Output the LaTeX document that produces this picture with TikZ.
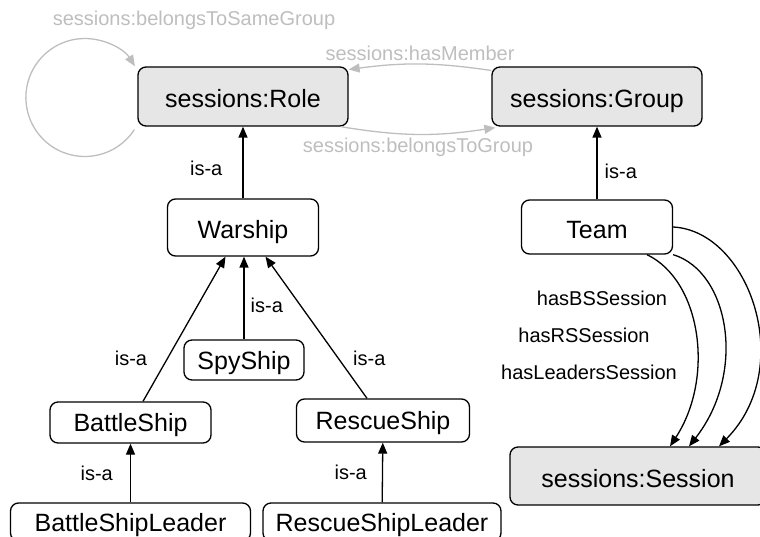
\documentclass[tikz,border=0pt]{standalone}
\usepackage{fontspec}
\setmainfont{Liberation Sans}
\usetikzlibrary{arrows.meta}
\definecolor{classfill}{HTML}{E6E6E6}
\definecolor{relgray}{HTML}{BEBEBE}
\tikzset{cls/.style={draw,rounded corners=8pt,line width=1.3pt,inner sep=0pt,
		text height=18pt,text depth=0pt,font=\fontsize{25}{30}\selectfont},
	big/.style={text height=23pt},
	ext/.style={cls,big,fill=classfill},
	lbl/.style={font=\fontsize{20}{24}\selectfont,inner sep=0pt}}

\begin{document}
\begin{tikzpicture}[x=1pt,y=1pt]
	\useasboundingbox (0,0) rectangle (760,536);
	\begin{scope}[every node/.style={cls}]
		\node[ext,minimum width=210pt,minimum height=59pt] (Role) at (243,439.5) {sessions:Role};
		\node[ext,minimum width=210pt,minimum height=59pt] (Group) at (597,439.5) {sessions:Group};
		\node[big,minimum width=151pt,minimum height=57pt] (Warship) at (243,308.5) {Warship};
		\node[big,minimum width=151pt,minimum height=54pt] (Team) at (597,309) {Team};
		\node[minimum width=120pt,minimum height=40pt] (SpyShip) at (244,176) {SpyShip};
		\node[minimum width=161pt,minimum height=41pt] (BattleShip) at (130.5,113.5) {BattleShip};
		\node[minimum width=173pt,minimum height=43pt] (RescueShip) at (383,115.5) {RescueShip};
		\node[minimum width=240pt,minimum height=38pt] (BattleShipLeader) at (130.5,14) {BattleShipLeader};
		\node[minimum width=238pt,minimum height=38pt] (RescueShipLeader) at (382,14) {RescueShipLeader};
		\node[ext,minimum width=256pt,minimum height=58pt] (Session) at (638,60) {sessions:Session};
	\end{scope}
	\begin{scope}[>={Triangle[length=11pt,width=9pt]},
		every node/.style={lbl},
		every edge/.style={draw,line width=1.3pt}]
		\path [->] (Warship) edge node[pos=.42,left=20pt]{is-a} (Role);
		\path [->] (Team) edge node[pos=.38,right=7pt]{is-a} (Group);
		\path [->] ([xshift=12.5pt]BattleShip.north) edge node[pos=.3,left=20pt]{is-a} ([xshift=-17.5pt]Warship.south);
		\path [->] (SpyShip) edge node[pos=.41,right=6pt]{is-a} ([xshift=1pt]Warship.south);
		\path [->] ([xshift=-16pt]RescueShip.north) edge node[pos=.28,right=14pt]{is-a} ([xshift=22.5pt]Warship.south);
		\path [->] (BattleShipLeader) edge node[left=17pt]{is-a} (BattleShip);
		\path [->] (RescueShipLeader) edge node[left=15pt]{is-a} (RescueShip);
		% team sessions
		\draw [->,line width=1.3pt] ([xshift=50pt]Team.south) .. controls +(54,-26) and +(45,69) .. ([xshift=32pt]Session.north);
		\draw [->,line width=1.3pt] (Team.south east) .. controls +(56,-17) and +(58,74) .. ([xshift=51pt]Session.north);
		\draw [->,line width=1.3pt] (Team.east) .. controls +(76,-4) and +(78,79) .. ([xshift=81pt]Session.north);
		\node (lblBS) at (602,238) {hasBSSession};
		\node (lblRS) at (584,201) {hasRSSession};
		\node (lblLeaders) at (589,164) {hasLeadersSession};
	\end{scope}
	\begin{scope}[>={Triangle[length=11pt,width=9pt]},draw=relgray,
		every node/.style={lbl,text=relgray},
		every edge/.style={draw=relgray,line width=1.3pt}]
		\path [->] ([yshift=26pt]Group.west) edge[bend right=8] node[above=3pt]{sessions:hasMember} ([yshift=27pt]Role.east);
		\path [->] ([xshift=-8pt]Role.south east) edge[bend right=9] node[below=3pt]{sessions:belongsToGroup} ([xshift=4pt,yshift=-1pt]Group.south west);
		\draw [->,relgray,line width=1.3pt] ([xshift=-3pt,yshift=-3pt]Role.south west) arc[start angle=-33,end angle=-328,radius=59];
		\node (lblSame) at (194,516) {sessions:belongsToSameGroup};
	\end{scope}
\end{tikzpicture}
\end{document}
